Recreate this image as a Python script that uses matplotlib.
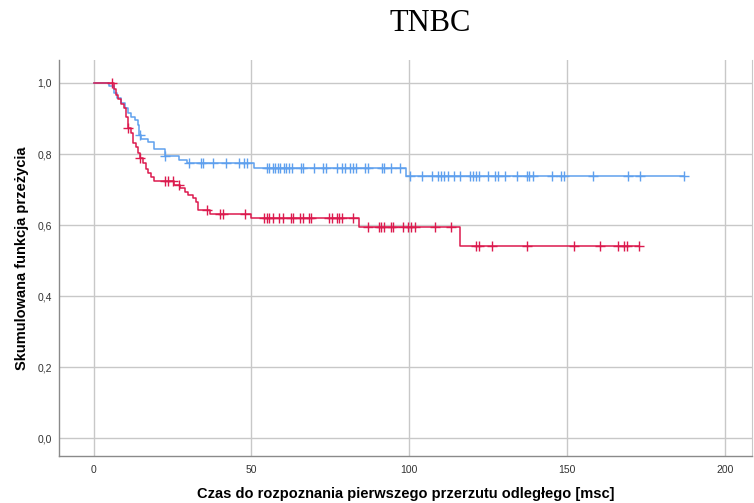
import matplotlib
matplotlib.use("Agg")
import matplotlib.pyplot as plt
from matplotlib.ticker import FuncFormatter

# Kaplan-Meier estimates: event times (months) and survival after each step
blue_times = [0, 4.8, 6.5, 7.5, 8.8, 10.0, 11.0, 12.0, 13.0, 14.0, 14.3, 15.0,
              17.2, 19.0, 22.5, 27.0, 29.5, 50.7, 99.0]
blue_surv = [1.0, 0.992, 0.972, 0.957, 0.944, 0.930, 0.916, 0.904, 0.895, 0.881,
             0.855, 0.842, 0.835, 0.813, 0.794, 0.784, 0.774, 0.762, 0.738]
blue_censored = [14.6, 22.7, 30.1, 34.1, 34.8, 38.0, 42.0, 46.1, 47.8, 48.7,
                 54.9, 55.7, 56.7, 57.5, 58.4, 59.2, 60.2, 61.0, 62.0, 62.8,
                 65.8, 66.5, 69.9, 72.8, 73.7, 77.1, 78.7, 79.5, 81.3, 82.2,
                 83.0, 86.1, 86.9, 91.3, 92.1, 94.2, 97.1,
                 100.1, 104.2, 107.2, 109.1, 110.0, 111.0, 112.3, 114.3, 116.2,
                 119.3, 120.2, 121.1, 122.1, 125.1, 127.2, 128.2, 130.3, 134.1,
                 137.3, 138.1, 139.1, 145.2, 148.2, 149.1, 158.1, 169.2, 173.2,
                 187.2]

red_times = [0, 6.5, 7.0, 7.8, 8.6, 9.5, 10.2, 10.8, 11.8, 12.6, 13.3, 14.0,
             14.7, 15.7, 16.6, 17.4, 18.2, 19.2, 25.5, 27.5, 29.0, 30.0, 31.6,
             32.6, 33.2, 37.0, 50.0, 84.2, 116.2]
red_surv = [1.0, 0.983, 0.966, 0.955, 0.940, 0.929, 0.903, 0.872, 0.858, 0.830,
            0.820, 0.802, 0.788, 0.774, 0.757, 0.746, 0.736, 0.725, 0.714, 0.704,
            0.694, 0.685, 0.676, 0.664, 0.644, 0.631, 0.619, 0.595, 0.541]
red_censored = [5.9, 10.9, 14.8, 22.7, 23.7, 25.1, 27.2, 35.9, 40.1, 40.9, 48.0,
                54.0, 54.9, 55.7, 56.7, 58.9, 60.0, 62.5, 63.3, 65.5, 66.3, 68.1,
                68.9, 74.7, 75.5, 77.1, 77.9, 78.8, 82.2,
                87.1, 90.3, 91.1, 92.1, 94.2, 95.0, 98.0, 99.5, 100.5, 101.8,
                108.2, 113.2,
                121.2, 122.2, 126.2, 137.3, 152.1, 160.3, 166.1, 167.9, 169.0,
                172.8]

x_ticks = [0, 50, 100, 150, 200]
y_ticks = [0.0, 0.2, 0.4, 0.6, 0.8, 1.0]

BLUE = "#5fa0ee"
RED = "#dc1a4e"


def surv_at(times, surv, t):
    s = surv[0]
    for ti, si in zip(times, surv):
        if ti <= t:
            s = si
        else:
            break
    return s


def draw_km(ax, times, surv, censored, color):
    end = max(times[-1], censored[-1])
    xs = list(times) + [end]
    ys = list(surv) + [surv[-1]]
    ax.step(xs, ys, where="post", color=color, lw=1.1, zorder=3)
    cy = [surv_at(times, surv, c) for c in censored]
    ax.plot(censored, cy, linestyle="none", marker="+", markersize=7,
            markeredgewidth=1.0, color=color, zorder=4)


fig = plt.figure(figsize=(7.54, 5.03), dpi=100)
ax = fig.add_axes([0.078, 0.093, 0.919, 0.788])

draw_km(ax, blue_times, blue_surv, blue_censored, BLUE)
draw_km(ax, red_times, red_surv, red_censored, RED)

ax.set_xlim(-11, 208.5)
ax.set_ylim(-0.05, 1.065)
ax.set_xticks(x_ticks)
ax.set_yticks(y_ticks)
ax.yaxis.set_major_formatter(FuncFormatter(lambda v, p: f"{v:.1f}".replace(".", ",")))
ax.grid(True, color="#c8c8c8", lw=1.0, zorder=0)
ax.tick_params(length=0, labelsize=7.5, colors="#333333")
ax.tick_params(axis="x", pad=6)
ax.tick_params(axis="y", pad=5)

ax.spines["top"].set_visible(False)
for side in ("left", "bottom"):
    ax.spines[side].set_color("#8a8a8a")
    ax.spines[side].set_linewidth(1.0)
ax.spines["right"].set_color("#c8c8c8")

font = "Liberation Sans"
for lab in ax.get_xticklabels() + ax.get_yticklabels():
    lab.set_fontfamily(font)

ax.set_xlabel("Czas do rozpoznania pierwszego przerzutu odległego [msc]",
              fontsize=10.5, fontweight="bold", family=font, labelpad=9)
ax.set_ylabel("Skumulowana funkcja przeżycia", fontsize=10.5,
              fontweight="bold", family=font, labelpad=6)

fig.text(0.571, 0.953, "TNBC", ha="center", va="center",
         fontsize=22, family="Liberation Serif")

fig.savefig("out.png", dpi=100)
